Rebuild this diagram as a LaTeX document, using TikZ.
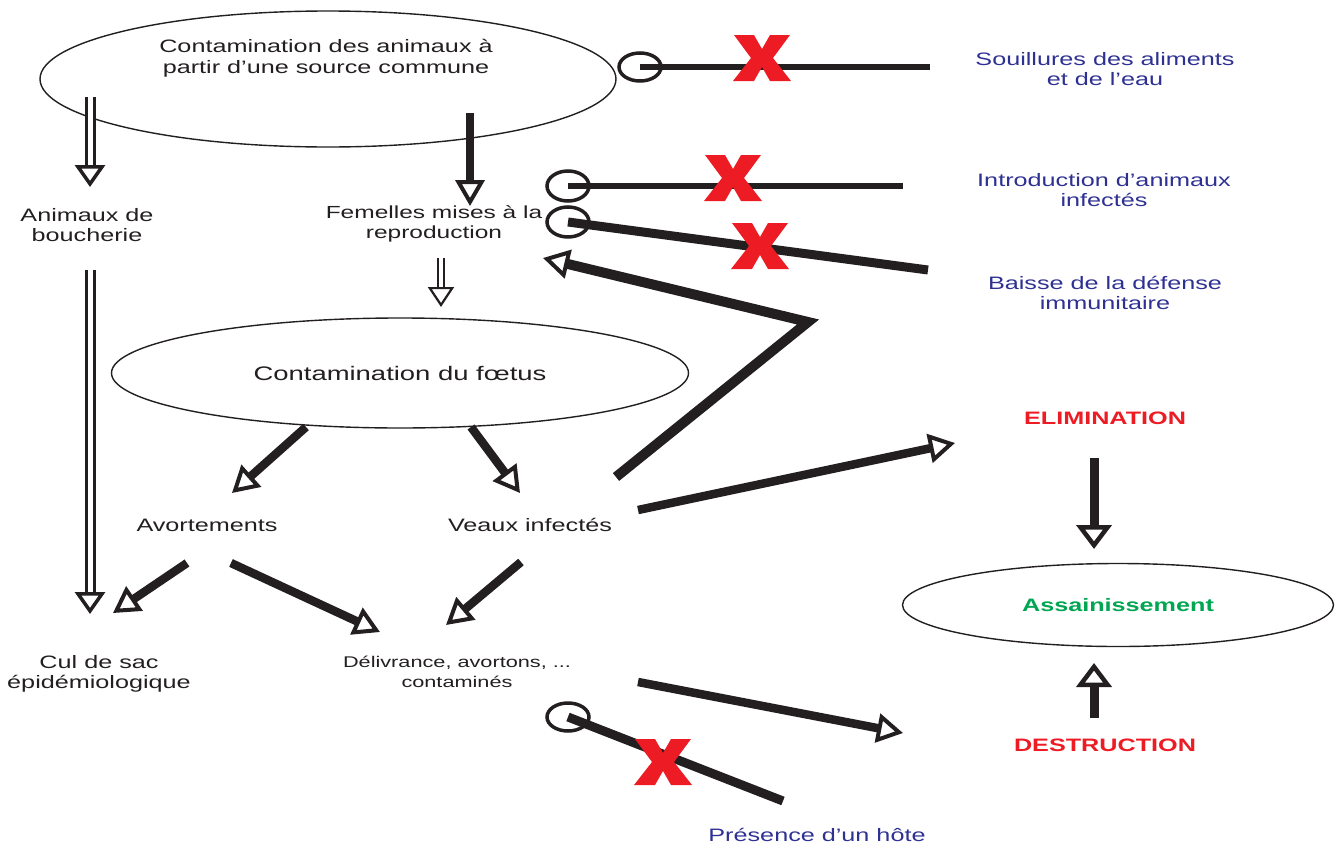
\documentclass[tikz,border=0pt]{standalone}
\usepackage{fontspec}
\setmainfont[FakeStretch=1.4]{Liberation Sans}
\usetikzlibrary{arrows.meta,shapes.geometric}
\definecolor{ink}{RGB}{35,31,32}
\definecolor{tblue}{RGB}{46,49,146}
\definecolor{xred}{RGB}{237,28,36}
\definecolor{tgreen}{RGB}{0,166,81}
\tikzset{
  lbl/.style={inner sep=0pt, align=center, text=ink, font=\fontsize{18}{20.5}\selectfont},
  bluelbl/.style={lbl, text=tblue},
  redlbl/.style={lbl, text=xred, font=\fontsize{18}{20.5}\selectfont\bfseries},
  oval/.style={ellipse, draw=ink, line width=1.4pt, inner sep=0pt},
  fat/.style={draw=ink, line width=8.5pt, -{Triangle[open, length=26pt, width=29pt, line width=4pt]}},
  vfat/.style={draw=ink, line width=9pt, -{Triangle[open, length=24pt, width=35pt, line width=4.5pt]}},
  hollowshaft/.style={draw=ink, line width=3pt, double=white, double distance=5pt},
  thinshaft/.style={draw=ink, line width=1.6pt, double=white, double distance=4pt},
  openhead/.style={draw=ink, line width=3.5pt, -{Triangle[open, length=22pt, width=30pt, line width=3.5pt]}},
  smallhead/.style={draw=ink, line width=2.2pt, -{Triangle[open, length=20pt, width=26pt, line width=2.2pt]}},
  block/.style={draw=ink, line width=6pt},
  blockfat/.style={draw=ink, line width=9pt},
  ring/.style={draw=ink, line width=3.5pt},
  xmark/.pic={\fill[xred] (-28,-23) -- (-8,-23) -- (0,-9) -- (8,-23) -- (28,-23) -- (11,0) -- (29,23) -- (8,23) -- (0,9) -- (-8,23) -- (-29,23) -- (-11,0) -- cycle;}
}
\begin{document}
\begin{tikzpicture}[x=1pt,y=-1pt]
\useasboundingbox (0,0) rectangle (1339,846);

% ---- nodes ----
\node[oval, minimum width=576pt, minimum height=136pt] (src) at (328,79) {};
\node[lbl] (srct) at (326,58) {Contamination des animaux à\\partir d’une source commune};
\node[bluelbl] (souil) at (1105,69) {Souillures des aliments\\et de l’eau};
\node[bluelbl] (intro) at (1104,190) {Introduction d’animaux\\infectés};
\node[bluelbl] (baisse) at (1105,293) {Baisse de la défense\\immunitaire};
\node[lbl] (bouch) at (87,225) {Animaux de\\boucherie};
\node[lbl, font=\fontsize{17.5}{20}\selectfont] (fem) at (434,224) {Femelles mises à la\\reproduction};
\node[oval, minimum width=577pt, minimum height=110pt, lbl, font=\fontsize{19.6}{22}\selectfont] (foetus) at (400,373) {Contamination du fœtus};
\node[redlbl] (elim) at (1105,418) {ELIMINATION};
\node[lbl] (avort) at (207,525) {Avortements};
\node[lbl] (veaux) at (530,525) {Veaux infectés};
\node[oval, lbl, minimum width=431pt, minimum height=83pt, text=tgreen, font=\fontsize{18}{20.5}\selectfont\bfseries] (assain) at (1118,605) {Assainissement};
\node[lbl] (cul) at (99,674) {Cul de sac\\épidémiologique};
\node[lbl, font=\fontsize{15.5}{20}\selectfont] (deliv) at (457,672) {Délivrance, avortons, ...\\contaminés};
\node[redlbl] (destr) at (1105,745) {DESTRUCTION};
\node[bluelbl] (hote) at (817,835) {Présence d’un hôte};

% ---- connector end points ----
\coordinate (a1s) at (90,97);   \coordinate (a1h) at (90,165);  \coordinate (a1t) at (90,187);
\coordinate (a2s) at (470,113); \coordinate (a2t) at (470,206);
\coordinate (a3s) at (90,270);  \coordinate (a3h) at (90,592);  \coordinate (a3t) at (90,614);
\coordinate (a4s) at (441,258); \coordinate (a4h) at (441,287); \coordinate (a4t) at (441,307);
\coordinate (b1s) at (306,427); \coordinate (b1t) at (232,493);
\coordinate (b2s) at (471,427); \coordinate (b2t) at (520,493);
\coordinate (c1s) at (616,477); \coordinate (c1m) at (808,322); \coordinate (c1t) at (543,258);
\coordinate (c2s) at (638,510); \coordinate (c2t) at (955,443);
\coordinate (d1s) at (187,563); \coordinate (d1t) at (113,613);
\coordinate (d2s) at (231,563); \coordinate (d2t) at (380,632);
\coordinate (d3s) at (521,562); \coordinate (d3t) at (446,625);
\coordinate (e1s) at (638,682); \coordinate (e1t) at (903,733);
\coordinate (f1s) at (1094,458); \coordinate (f1t) at (1094,549);
\coordinate (f2s) at (1094,718); \coordinate (f2t) at (1094,663);
% inhibition lines
\coordinate (g1c) at (640,67);  \coordinate (g1e) at (930,67);
\coordinate (g2c) at (568,186); \coordinate (g2e) at (903,186);
\coordinate (g3c) at (568,222); \coordinate (g3e) at (928,270);
\coordinate (g4c) at (568,717); \coordinate (g4e) at (783,801);

% ---- hollow-shaft arrows ----
\draw[hollowshaft] (a1s) -- (a1h); \draw[openhead] (a1h) -- (a1t);
\draw[hollowshaft] (a3s) -- (a3h); \draw[openhead] (a3h) -- (a3t);
\draw[thinshaft] (a4s) -- (a4h);   \draw[smallhead] (a4h) -- (a4t);

% ---- solid arrows ----
\draw[fat] (a2s) -- (a2t);
\draw[fat] (b1s) -- (b1t);
\draw[fat] (b2s) -- (b2t);
\draw[fat, line width=10pt, line join=miter] (c1s) -- (c1m) -- (c1t);
\draw[fat] (c2s) -- (c2t);
\draw[fat] (d1s) -- (d1t);
\draw[fat] (d2s) -- (d2t);
\draw[fat] (d3s) -- (d3t);
\draw[fat] (e1s) -- (e1t);
\draw[vfat] (f1s) -- (f1t);
\draw[vfat] (f2s) -- (f2t);

% ---- blocked links ----
\draw[block] (g1c) -- (g1e);
\draw[ring] (g1c) ellipse [x radius=21, y radius=14];
\draw[block] (g2c) -- (g2e);
\draw[ring] (g2c) ellipse [x radius=21, y radius=15];
\draw[blockfat] (g3c) -- (g3e);
\draw[ring] (g3c) ellipse [x radius=21, y radius=15];
\draw[blockfat] (g4c) -- (g4e);
\draw[ring] (g4c) ellipse [x radius=21, y radius=14];

\pic at (762,58) {xmark};
\pic at (733,178) {xmark};
\pic at (760,246) {xmark};
\pic at (663,762) {xmark};
\end{tikzpicture}
\end{document}
